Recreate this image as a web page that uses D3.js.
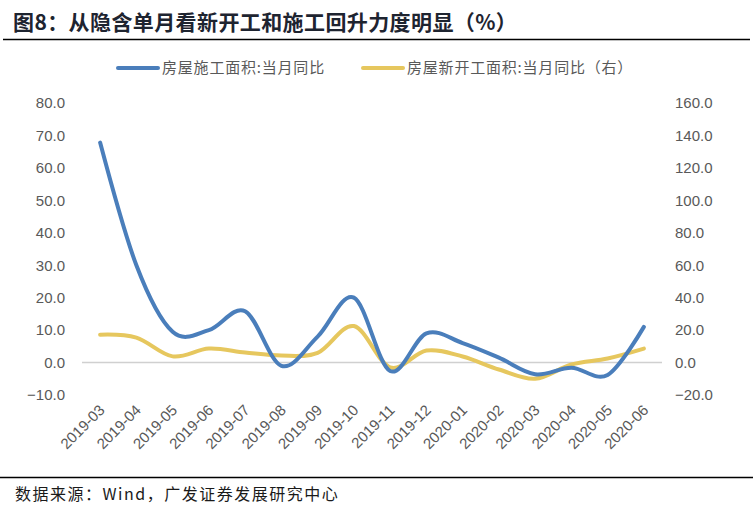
<!DOCTYPE html>
<html>
<head>
<meta charset="utf-8">
<script src="https://cdn.jsdelivr.net/npm/d3@7"></script>
<style>
  body { margin: 0; background: #fff; }
  svg { display: block; }
</style>
</head>
<body>
<div id="Chart"></div>
<script>
// Categories and series
const months = ["2019-03", "2019-04", "2019-05", "2019-06", "2019-07", "2019-08", "2019-09", "2019-10",
                "2019-11", "2019-12", "2020-01", "2020-02", "2020-03", "2020-04", "2020-05", "2020-06"];
const underConstruction = [67.8, 30.0, 9.5, 10.0, 15.8, -1.0, 8.0, 20.0,
                           -2.6, 9.0, 6.0, 1.5, -3.6, -1.6, -3.8, 11.0];
const newStarts = [17.2, 15.4, 3.8, 8.6, 6.2, 4.3, 6.0, 22.5,
                   -3.0, 7.4, 3.7, -4.3, -10.0, -1.2, 2.5, 8.6];
const leftTicks = [-10, 0, 10, 20, 30, 40, 50, 60, 70, 80];
const rightTicks = [-20, 0, 20, 40, 60, 80, 100, 120, 140, 160];
const seriesNames = ["房屋施工面积:当月同比", "房屋新开工面积:当月同比（右）"];
const titleText = "图8：从隐含单月看新开工和施工回升力度明显（%）";
const sourceText = "数据来源：Wind，广发证券发展研究中心";

const Width = 753, Height = 520;
const Plot = {left: 82, right: 662, top: 103, bottom: 395};
const Blue = "#4a7ebb", Yellow = "#e6c75e", Grey = "#595959";
const SansLatin = "'Liberation Sans', Arial, sans-serif";
const SansCJK = "'Noto Sans CJK SC', sans-serif";

let Canvas = d3.select("#Chart").append("svg")
    .attr("width", Width).attr("height", Height);

// Title and rules
Canvas.append("text").attr("x", 13).attr("y", 30)
    .attr("font-family", SansCJK).attr("font-weight", "bold")
    .attr("font-size", 21).attr("letter-spacing", 0.4).attr("fill", "#1e2430")
    .text(titleText);
Canvas.append("line").attr("x1", 3).attr("x2", 750).attr("y1", 39.5).attr("y2", 39.5)
    .attr("stroke", "#000").attr("stroke-width", 1.3);
Canvas.append("line").attr("x1", 0).attr("x2", 753).attr("y1", 477.5).attr("y2", 477.5)
    .attr("stroke", "#000").attr("stroke-width", 1.3);
Canvas.append("text").attr("x", 15).attr("y", 500)
    .attr("font-family", SansCJK).attr("font-size", 16).attr("letter-spacing", 1.5).attr("fill", "#1a1a1a")
    .text(sourceText);

// Scales
let ScaleX = d3.scalePoint().domain(months).range([Plot.left, Plot.right]).padding(0.5);
let ScaleYL = d3.scaleLinear().domain([-10, 80]).range([Plot.bottom, Plot.top]);
let ScaleYR = d3.scaleLinear().domain([-20, 160]).range([Plot.bottom, Plot.top]);

// Axes (labels only, no domain lines)
let AxisL = Canvas.append("g").attr("transform", `translate(${Plot.left - 17}, 0)`)
    .call(d3.axisLeft(ScaleYL).tickValues(leftTicks).tickFormat(d3.format(".1f")).tickSize(0).tickPadding(0));
let AxisR = Canvas.append("g").attr("transform", `translate(${Plot.right + 13}, 0)`)
    .call(d3.axisRight(ScaleYR).tickValues(rightTicks).tickFormat(d3.format(".1f")).tickSize(0).tickPadding(0));
let AxisX = Canvas.append("g").attr("transform", `translate(0, ${Plot.bottom + 8})`)
    .call(d3.axisBottom(ScaleX).tickSize(0).tickPadding(0));
AxisX.selectAll("text")
    .attr("text-anchor", "end")
    .attr("dy", null).attr("y", 0)
    .attr("transform", "translate(5, 8) rotate(-45)");

[AxisL, AxisR, AxisX].forEach(ax => {
    ax.select(".domain").remove();
    ax.selectAll("text").attr("font-family", SansLatin).attr("font-size", 15).attr("fill", Grey);
});

// Zero line
Canvas.append("line")
    .attr("x1", Plot.left).attr("x2", Plot.right)
    .attr("y1", ScaleYL(0)).attr("y2", ScaleYL(0))
    .attr("stroke", "#d0d0d0").attr("stroke-width", 1.5);

// Series
let LineL = d3.line().x((d, i) => ScaleX(months[i])).y(d => ScaleYL(d)).curve(d3.curveCardinal.tension(0));
let LineR = d3.line().x((d, i) => ScaleX(months[i])).y(d => ScaleYR(d)).curve(d3.curveCardinal.tension(0));
Canvas.append("path").attr("d", LineR(newStarts))
    .attr("fill", "none").attr("stroke", Yellow).attr("stroke-width", 4).attr("stroke-linecap", "round");
Canvas.append("path").attr("d", LineL(underConstruction))
    .attr("fill", "none").attr("stroke", Blue).attr("stroke-width", 4).attr("stroke-linecap", "round");

// Legend
const Legend = [{x: 118, color: Blue, name: seriesNames[0]}, {x: 363, color: Yellow, name: seriesNames[1]}];
Legend.forEach(l => {
    Canvas.append("line").attr("x1", l.x).attr("x2", l.x + 40).attr("y1", 68).attr("y2", 68)
        .attr("stroke", l.color).attr("stroke-width", 4).attr("stroke-linecap", "round");
    Canvas.append("text").attr("x", l.x + 44).attr("y", 73)
        .attr("font-family", SansCJK).attr("font-size", 15).attr("letter-spacing", 0.8).attr("fill", Grey)
        .text(l.name);
});
</script>
</body>
</html>
